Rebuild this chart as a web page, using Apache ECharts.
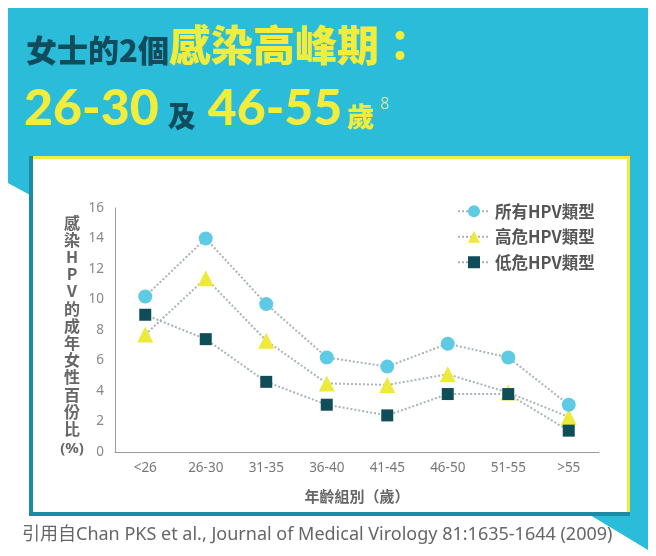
<!DOCTYPE html>
<html><head><meta charset="utf-8">
<script src="https://cdn.jsdelivr.net/npm/echarts@6/dist/echarts.min.js"></script>
<style>html,body{margin:0;padding:0;background:#fff}#c{width:656px;height:556px}</style>
</head><body><div id="c"></div>
<script>
const categories = ['<26','26-30','31-35','36-40','41-45','46-50','51-55','>55'];
const allHPV = [10.2, 14.0, 9.7, 6.2, 5.6, 7.1, 6.2, 3.1];
const highRisk = [7.7, 11.4, 7.3, 4.5, 4.4, 5.1, 3.9, 2.3];
const lowRisk = [9.0, 7.4, 4.6, 3.1, 2.4, 3.8, 3.8, 1.4];
const seriesNames = ['所有HPV類型','高危HPV類型','低危HPV類型'];
const yTicks = {min:0, max:16, interval:2};

const BLUE='#2bbcda', YEL='#f2ec3a', DARK='#0f4c5c', TEAL='#1c8aa2';
const CJK='"Noto Sans CJK TC","Noto Sans CJK SC",sans-serif';
const chart = echarts.init(document.getElementById('c'), null, {renderer:'canvas'});
const lineStyle = {type:'dotted', color:'#a9b3b8', width:2};
chart.setOption({
  animation:false,
  backgroundColor:'#fff',
  graphic:[
    {type:'polygon', z:-10, shape:{points:[[8,8],[648,8],[648,550],[590,515],[30,515],[30,195],[8,183]]}, style:{fill:BLUE}},
    {type:'rect', z:-9, shape:{x:30,y:156,width:600,height:359}, style:{fill:'#fff'}},
    {type:'rect', z:-8, shape:{x:30,y:156,width:600,height:3}, style:{fill:YEL}},
    {type:'rect', z:-8, shape:{x:627,y:156,width:3,height:359}, style:{fill:YEL}},
    {type:'rect', z:-8, shape:{x:29,y:156,width:4,height:359}, style:{fill:TEAL}},
    {type:'rect', z:-8, shape:{x:29,y:512,width:601,height:4}, style:{fill:TEAL}},
    {type:'text', left:26, top:24, style:{
      text:'{a|女士的2個}{b|感染高峰期：}',
      rich:{
        a:{fontFamily:CJK, fontWeight:900, fontSize:31, fill:DARK, verticalAlign:'bottom'},
        b:{fontFamily:CJK, fontWeight:900, fontSize:42, fill:YEL, verticalAlign:'bottom'}
      }}},
    {type:'text', left:24, top:84, style:{
      text:'{n|26-30}{c|及}{n|46-55}{s|歲}{p|8}',
      rich:{
        n:{fontFamily:'Lato, "Noto Sans", sans-serif', fontWeight:900, fontSize:50, fill:YEL},
        c:{fontFamily:CJK, fontWeight:900, fontSize:28, fill:DARK, padding:[14,12,0,9]},
        s:{fontFamily:CJK, fontWeight:900, fontSize:27, fill:YEL, padding:[16,0,0,5]},
        p:{fontFamily:'"Noto Sans", sans-serif', fontWeight:300, fontSize:16, fill:'#f6f29a', padding:[0,0,10,6]}
      }}},
    {type:'text', x:72, y:214, style:{
      text:'感\n染\nH\nP\nV\n的\n成\n年\n女\n性\n百\n份\n比',
      fontFamily:CJK, fontWeight:'bold', fontSize:16, lineHeight:17.2, fill:'#666', align:'center', verticalAlign:'top'}},
    {type:'text', x:72, y:449, style:{text:'(%)', fontFamily:'"Noto Sans", sans-serif', fontWeight:'bold', fontSize:15, fill:'#666', align:'center', verticalAlign:'middle'}},
    {type:'text', x:22, y:535, style:{text:'引用自Chan PKS et al., Journal of Medical Virology 81:1635-1644 (2009)',
      fontFamily:'"Noto Sans", '+CJK, fontSize:18, fill:'#666', verticalAlign:'middle'}}
  ],
  grid:{left:115, right:57, top:208, bottom:104},
  legend:{
    orient:'vertical', left:452, top:198, itemGap:9, itemWidth:32, itemHeight:15,
    data:seriesNames,
    textStyle:{fontFamily:CJK, fontSize:16.5, color:'#555', fontWeight:'bold'}
  },
  xAxis:{
    type:'category', data:categories, boundaryGap:true,
    axisLine:{lineStyle:{color:'#9a9a9a', width:1}},
    axisTick:{inside:true, length:6, lineStyle:{color:'#9a9a9a'}},
    axisLabel:{color:'#777', fontSize:13.5, margin:9, fontFamily:'"Noto Sans", sans-serif'},
    name:'年齡組別（歲）', nameLocation:'middle', nameGap:37,
    nameTextStyle:{color:'#666', fontSize:15, fontWeight:'bold', fontFamily:CJK}
  },
  yAxis:{
    type:'value', min:yTicks.min, max:yTicks.max, interval:yTicks.interval,
    axisLine:{show:true, lineStyle:{color:'#9a9a9a'}},
    axisTick:{show:false},
    splitLine:{show:false},
    axisLabel:{color:'#888', fontSize:13.5, margin:11, fontFamily:'"Noto Sans", sans-serif'}
  },
  series:[
    {name:seriesNames[0], type:'line', data:allHPV, symbol:'circle', symbolSize:14,
     itemStyle:{color:'#5ccbe3'}, lineStyle:lineStyle, z:3},
    {name:seriesNames[1], type:'line', data:highRisk, symbol:'triangle', symbolSize:16,
     itemStyle:{color:'#eeea3c'}, lineStyle:lineStyle, z:2},
    {name:seriesNames[2], type:'line', data:lowRisk, symbol:'rect', symbolSize:12,
     itemStyle:{color:'#0f4e59'}, lineStyle:lineStyle, z:4}
  ]
});
</script></body></html>
